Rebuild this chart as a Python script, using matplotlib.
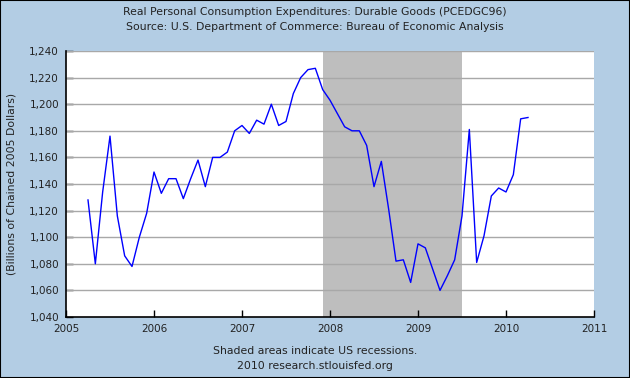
import matplotlib
matplotlib.use("Agg")
import matplotlib.pyplot as plt
import numpy as np

# ---- data (monthly, Apr 2005 .. Apr 2010) ----
start_year = 2005
start_month = 4  # April
values = [
    1128, 1080, 1134, 1176, 1116, 1086, 1078, 1100, 1118,          # 2005 Apr-Dec
    1149, 1133, 1144, 1144, 1129, 1144, 1158, 1138, 1160, 1160, 1164, 1180,  # 2006
    1184, 1178, 1188, 1185, 1200, 1184, 1187, 1208, 1220, 1226, 1227, 1211,  # 2007
    1203, 1193, 1183, 1180, 1180, 1169, 1138, 1157, 1121, 1082, 1083, 1066,  # 2008
    1095, 1092, 1076, 1060, 1071, 1083, 1116, 1181, 1081, 1101, 1131, 1137,  # 2009
    1134, 1147, 1189, 1190,                                             # 2010
]
recession_start = 2007 + 11/12   # Dec 2007
recession_end = 2009 + 6/12      # Jul 2009
x_ticks = [2005, 2006, 2007, 2008, 2009, 2010, 2011]
y_ticks = list(range(1040, 1241, 20))

title_lines = ["Real Personal Consumption Expenditures: Durable Goods (PCEDGC96)",
               "Source: U.S. Department of Commerce: Bureau of Economic Analysis"]
y_label = "(Billions of Chained 2005 Dollars)"
footer_lines = ["Shaded areas indicate US recessions.", "2010 research.stlouisfed.org"]

x = [start_year + (start_month - 1 + i) / 12 for i in range(len(values))]

bg = "#B3CDE4"
fig = plt.figure(figsize=(6.3, 3.78), dpi=100, facecolor=bg)
fig.patches.append(plt.Rectangle((0, 0), 1, 1, transform=fig.transFigure,
                                 fill=False, edgecolor="black", linewidth=1.5))
ax = fig.add_axes([66/630, 1 - 317/378, (594 - 66)/630, (317 - 51)/378])
ax.set_facecolor("white")

ax.axvspan(recession_start, recession_end, color="#BEBEBE", zorder=1, linewidth=0)
for yt in y_ticks[1:]:
    ax.axhline(yt, color="#A8A8A8", linewidth=1.0, zorder=2)
ax.plot(x, values, color="#0000FF", linewidth=1.0, zorder=3)

ax.set_xlim(2005, 2011)
ax.set_ylim(1040, 1240)
ax.set_xticks(x_ticks)
ax.set_xticklabels([str(t) for t in x_ticks])
ax.set_yticks(y_ticks)
ax.set_yticklabels([f"{t:,}" for t in y_ticks])
ax.tick_params(direction="in", length=5, width=1, color="black",
               labelsize=7.5, labelcolor="#222222", pad=5)
for s in ["top", "right"]:
    ax.spines[s].set_visible(False)
for s in ["left", "bottom"]:
    ax.spines[s].set_color("black")
    ax.spines[s].set_linewidth(1.2)

fig.text(0.5, 1 - 12/378, title_lines[0], ha="center", va="center", fontsize=7.8, color="#222222")
fig.text(0.5, 1 - 27/378, title_lines[1], ha="center", va="center", fontsize=7.8, color="#222222")
fig.text(12/630, 1 - 184/378, y_label, ha="center", va="center", rotation=90, fontsize=7.8, color="#222222")
fig.text(0.5, 1 - 351/378, footer_lines[0], ha="center", va="center", fontsize=7.8, color="#222222")
fig.text(0.5, 1 - 366/378, footer_lines[1], ha="center", va="center", fontsize=7.8, color="#222222")

fig.savefig("out.png", dpi=100, facecolor=bg)
